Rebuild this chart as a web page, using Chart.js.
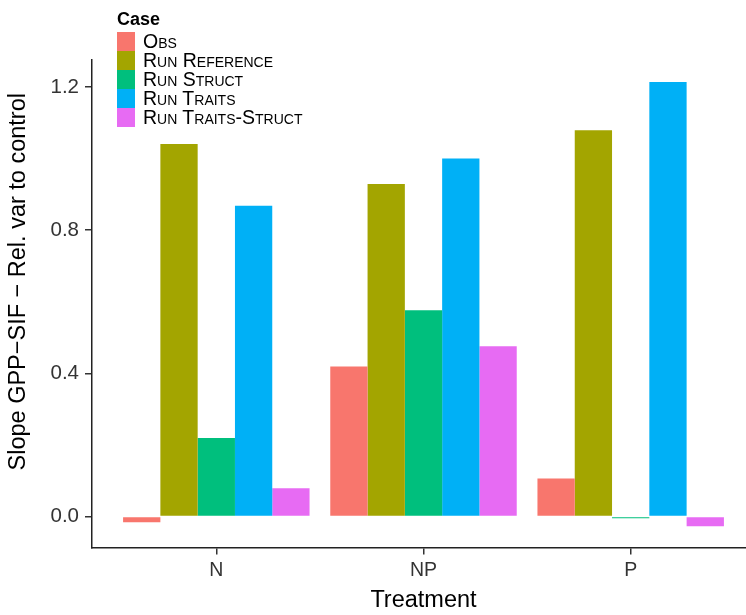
<!DOCTYPE html>
<html>
<head>
<meta charset="utf-8">
<script src="https://cdn.jsdelivr.net/npm/chart.js@4.4.1/dist/chart.umd.min.js"></script>
<style>
  html, body { margin: 0; padding: 0; background: #fff; overflow: hidden; }
  #wrap { position: relative; width: 746px; height: 615px; overflow: hidden; }
  #chart { display: block; }
  #legend { position: absolute; left: 117px; top: 6px; font-family: "Liberation Sans", Arial, sans-serif; color: #000; }
  #legend .title { font-weight: bold; font-size: 18px; line-height: 26px; }
  #legend .row { display: flex; align-items: center; height: 19px; }
  #legend .box { width: 18px; height: 19px; }
  #legend .lab { margin-left: 8px; font-size: 19.5px; font-variant: small-caps; line-height: 19px; white-space: nowrap; }
</style>
</head>
<body>
<div id="wrap">
  <!-- パネルは右端で切れているので少し広めに描く -->
  <canvas id="chart" width="755" height="615"></canvas>
  <div id="legend"></div>
</div>
<script>
// カテゴリと系列
const categories = ['N', 'NP', 'P'];
const seriesNames = ['Obs', 'Run Reference', 'Run Struct', 'Run Traits', 'Run Traits-Struct'];
const seriesColors = ['#F8766D', '#A3A500', '#00BF7D', '#00B0F6', '#E76BF3'];

// 各系列の値 (N, NP, P)
const obs = [-0.016, 0.419, 0.106];
const runReference = [1.041, 0.929, 1.079];
const runStruct = [0.219, 0.576, -0.005];
const runTraits = [0.868, 1.0, 1.214];
const runTraitsStruct = [0.079, 0.476, -0.027];

const yTicks = [0.0, 0.4, 0.8, 1.2];

const seriesValues = [obs, runReference, runStruct, runTraits, runTraitsStruct];

const FONT = '"Liberation Sans", Arial, sans-serif';
const yTitle = 'Slope GPP\u2212SIF \u2212 Rel. var to control';

// データセットを作る
const datasets = seriesNames.map((name, i) => ({
  label: name,
  data: seriesValues[i].map((v, j) => ({ x: j + 1, y: v })),
  backgroundColor: seriesColors[i],
  borderWidth: 0,
  categoryPercentage: 0.9,
  barPercentage: 1.0,
}));

// 凡例はHTMLで (small-capsのため)
function buildLegend() {
  const el = document.getElementById('legend');
  let html = '<div class="title">Case</div>';
  seriesNames.forEach((name, i) => {
    html += `<div class="row"><div class="box" style="background:${seriesColors[i]}"></div><div class="lab">${name}</div></div>`;
  });
  el.innerHTML = html;
}
buildLegend();

// Y軸タイトル (少し上寄せ)
const yTitlePlugin = {
  id: 'yTitle',
  afterDraw(chart) {
    const { ctx, chartArea } = chart;
    ctx.save();
    ctx.translate(19, (chartArea.top + chartArea.bottom) / 2 - 22);
    ctx.rotate(-Math.PI / 2);
    ctx.font = `23.5px ${FONT}`;
    ctx.fillStyle = '#000';
    ctx.textAlign = 'center';
    ctx.textBaseline = 'middle';
    ctx.fillText(yTitle, 0, 0);
    ctx.restore();
  },
};

const ctx = document.getElementById('chart').getContext('2d');
new Chart(ctx, {
  type: 'bar',
  data: { datasets: datasets },
  plugins: [yTitlePlugin],
  options: {
    responsive: false,
    animation: false,
    layout: { padding: { top: 60, right: 0, left: 0, bottom: 0 } },
    plugins: { legend: { display: false }, tooltip: { enabled: false } },
    scales: {
      x: {
        type: 'linear',
        min: 0.4,
        max: 3.6,
        offset: false,
        grid: { offset: false, drawOnChartArea: false, drawTicks: true, tickLength: 7, color: '#333', lineWidth: 1.5 },
        border: { display: true, color: '#222', width: 1.5 },
        afterBuildTicks: (scale) => { scale.ticks = categories.map((c, i) => ({ value: i + 1 })); },
        afterFit: (scale) => { scale.height = 67.5; },
        ticks: {
          callback: (v) => categories[Math.round(v) - 1] || '',
          font: { family: FONT, size: 19.5 },
          color: '#333',
          padding: 4,
          maxRotation: 0,
        },
        title: {
          display: true,
          text: 'Treatment',
          font: { family: FONT, size: 23.5 },
          color: '#000',
          padding: { top: 0, bottom: 0 },
        },
      },
      y: {
        min: -0.0866,
        max: 1.2755,
        grid: { drawOnChartArea: false, drawTicks: true, tickLength: 7, color: '#333', lineWidth: 1.5 },
        border: { display: true, color: '#222', width: 1.5 },
        afterBuildTicks: (scale) => { scale.ticks = yTicks.map(v => ({ value: v })); },
        afterFit: (scale) => { scale.width = 92; },
        ticks: {
          callback: (v) => Number(v).toFixed(1),
          font: { family: FONT, size: 20.5 },
          color: '#333',
          padding: 6,
        },
        title: { display: false },
      },
    },
  },
});
</script>
</body>
</html>
